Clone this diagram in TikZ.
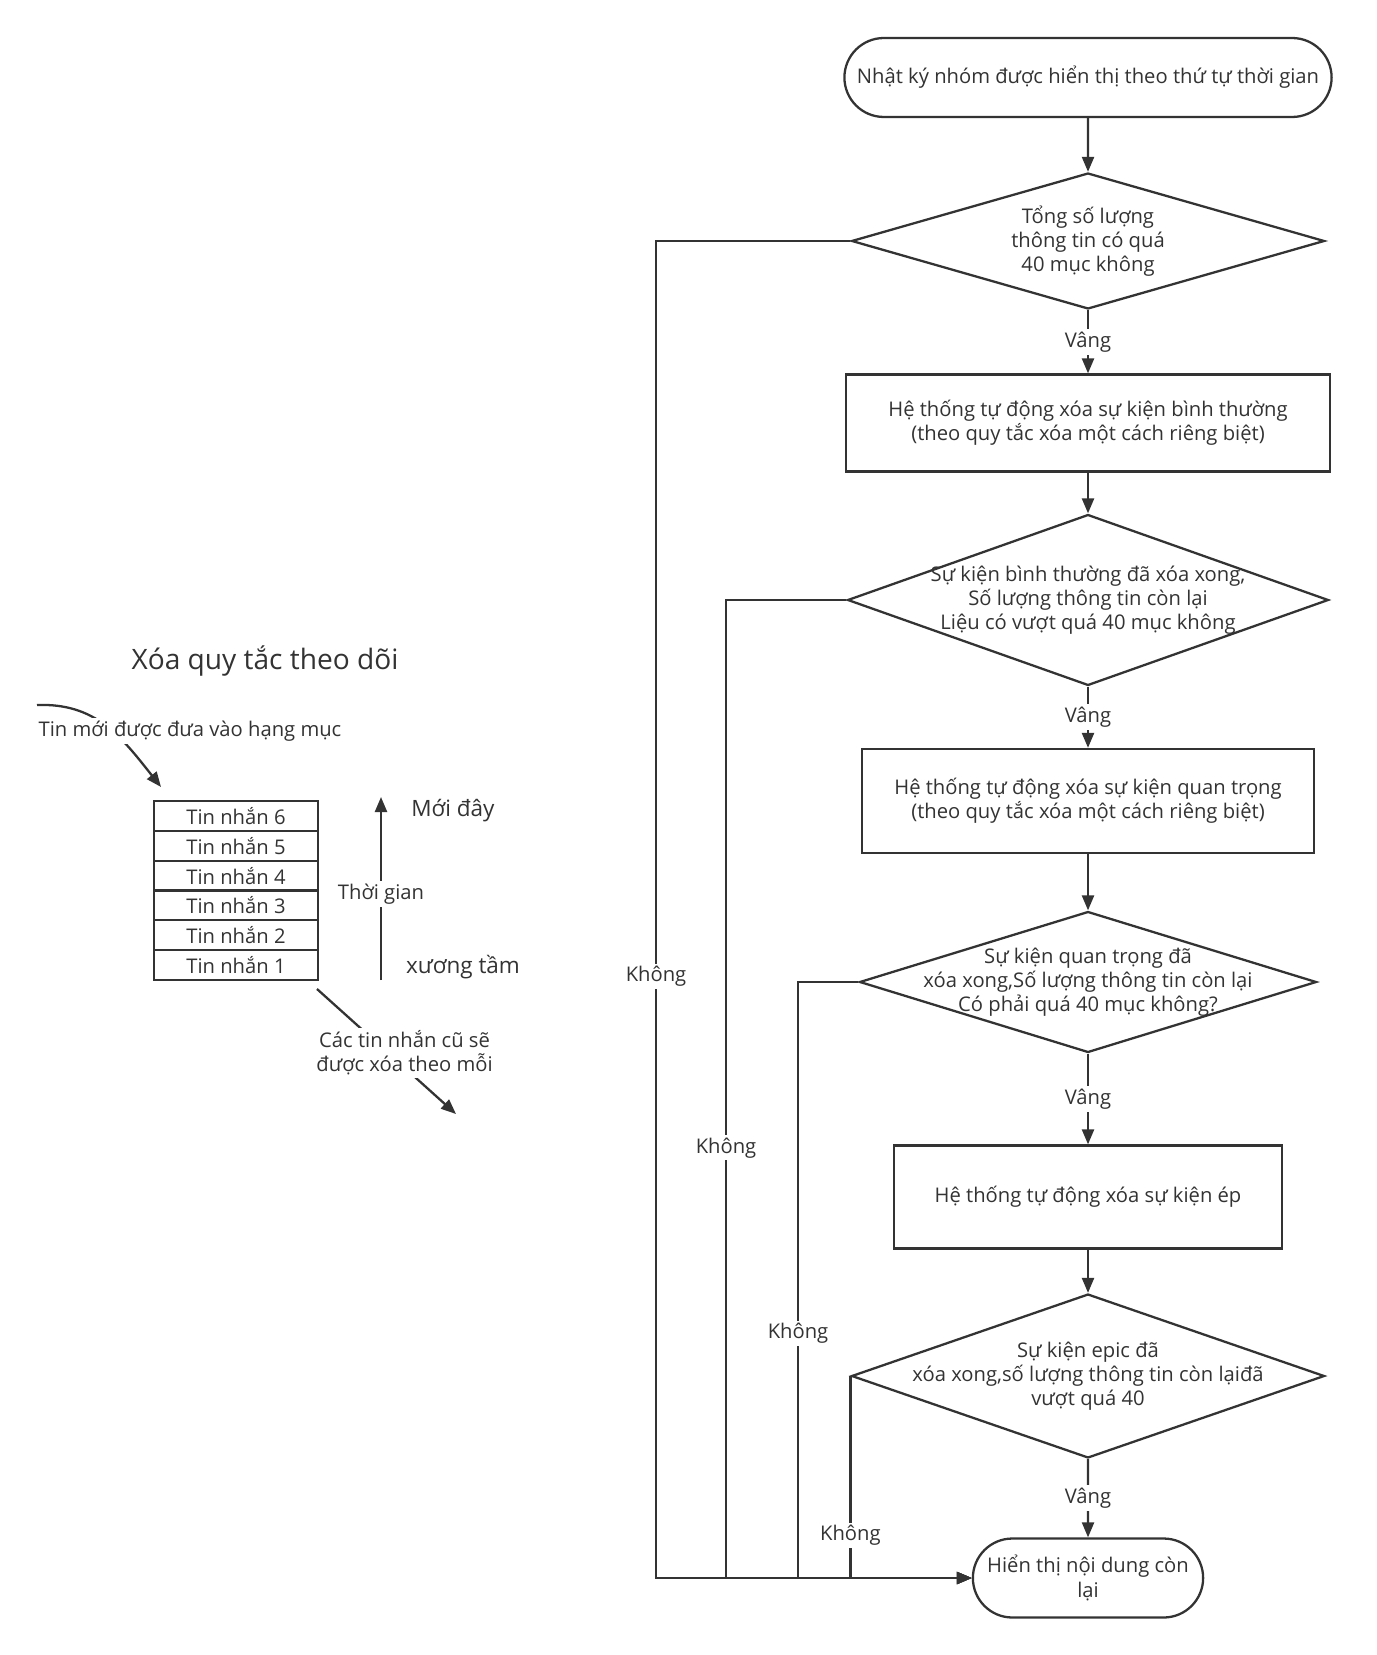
\documentclass[tikz,border=0pt]{standalone}
\usepackage{fontspec}
\setmainfont{Open Sans}
\usetikzlibrary{shapes.geometric,shapes.misc,arrows.meta,positioning}
\definecolor{ink}{HTML}{333333}
\newcommand\fmain{\fontsize{11.5}{13.8}\selectfont}
\newcommand\fbig{\fontsize{12.8}{15}\selectfont}

\begin{document}
\begin{tikzpicture}[
    x=0.02cm, y=-0.02cm,
    every node/.style={text=ink},
    term/.style={draw=ink, line width=1.3pt, rounded rectangle,
                 minimum height=1.58cm, align=center, font=\fmain},
    proc/.style={draw=ink, line width=1.3pt, rectangle,
                 align=center, font=\fmain},
    dec/.style={draw=ink, line width=1.3pt, diamond, inner sep=0pt},
    dtxt/.style={align=center, font=\fmain},
    arr/.style={-{Triangle[length=0.3cm, width=0.24cm]}, draw=ink, line width=1.3pt},
    lbl/.style={fill=white, inner sep=1.5pt, align=center, font=\fmain},
    msg/.style={draw=ink, line width=1.3pt, minimum width=3.28cm,
                minimum height=0.596cm, inner sep=0pt, font=\fmain},
]
\path[fill=white, use as bounding box] (0,0) rectangle (1376,1655);

% Flowchart on the right
\node[term, minimum width=9.98cm] (start) at (1088,77.5)
    {Nhật ký nhóm được hiển thị theo thứ tự thời gian};
\node[dec, minimum width=9.46cm, minimum height=2.72cm,
      label={[dtxt]center:{Tổng số lượng\\thông tin có quá\\40 mục không}}] (d1) at (1088,241) {};
\node[proc, minimum width=9.68cm, minimum height=1.94cm] (b1) at (1088,423)
    {Hệ thống tự động xóa sự kiện bình thường\\(theo quy tắc xóa một cách riêng biệt)};
\node[dec, minimum width=9.62cm, minimum height=3.42cm,
      label={[dtxt]center:{Sự kiện bình thường đã xóa xong,\\Số lượng thông tin còn lại\\Liệu có vượt quá 40 mục không}}] (d2) at (1088,600) {};
\node[proc, minimum width=9.04cm, minimum height=2.08cm] (b2) at (1088,801)
    {Hệ thống tự động xóa sự kiện quan trọng\\(theo quy tắc xóa một cách riêng biệt)};
\node[dec, minimum width=9.14cm, minimum height=2.82cm,
      label={[dtxt]center:{Sự kiện quan trọng đã\\xóa xong,Số lượng thông tin còn lại\\Có phải quá 40 mục không?}}] (d3) at (1088,982) {};
\node[proc, minimum width=7.76cm, minimum height=2.06cm] (b3) at (1088,1197)
    {Hệ thống tự động xóa sự kiện ép};
\node[dec, minimum width=9.46cm, minimum height=3.28cm,
      label={[dtxt]center:{Sự kiện epic đã\\xóa xong,số lượng thông tin còn lạiđã\\vượt quá 40}}] (d4) at (1088,1376) {};
\node[term, minimum width=4.84cm] (done) at (1088,1578)
    {Hiển thị nội dung còn\\lại};

% Main path
\draw[arr] (start) -- (d1);
\draw[arr] (d1) -- node[lbl] {Vâng} (b1);
\draw[arr] (b1) -- (d2);
\draw[arr] (d2) -- node[lbl] {Vâng} (b2);
\draw[arr] (b2) -- (d3);
\draw[arr] (d3) -- node[lbl] {Vâng} (b3);
\draw[arr] (b3) -- (d4);
\draw[arr] (d4) -- node[lbl] {Vâng} (done);

% "No" branches down the left side
\coordinate (k1) at (656,0);
\coordinate (k2) at (726,0);
\coordinate (k3) at (798,0);
\draw[arr] (d1.west) -- (d1.west -| k1) -- node[lbl, pos=0.55] {Không} (k1 |- done.west) -- (done.west);
\draw[arr] (d2.west) -- (d2.west -| k2) -- node[lbl, pos=0.56] {Không} (k2 |- done.west) -- (done.west);
\draw[arr] (d3.west) -- (d3.west -| k3) -- node[lbl, pos=0.59] {Không} (k3 |- done.west) -- (done.west);
\draw[arr] (d4.west) -- node[lbl, pos=0.79] {Không} (d4.west |- done.west) -- (done.west);

% Deletion rule sketch on the left
\node[font=\fontsize{16}{19}\selectfont] (title) at (265,661) {Xóa quy tắc theo dõi};

\node[msg] (m6) at (236,816) {Tin nhắn 6};
\node[msg, below=-1.3pt of m6] (m5) {Tin nhắn 5};
\node[msg, below=-1.3pt of m5] (m4) {Tin nhắn 4};
\node[msg, below=-1.3pt of m4] (m3) {Tin nhắn 3};
\node[msg, below=-1.3pt of m3] (m2) {Tin nhắn 2};
\node[msg, below=-1.3pt of m2] (m1) {Tin nhắn 1};

\coordinate (nws) at (37,705);
\coordinate (nwe) at (161,787);
\draw[arr] (nws) .. controls (95,703) and (120,735) .. (nwe);
\node[lbl] (newlbl) at (190,731) {Tin mới được đưa vào hạng mục};

\coordinate (tlo) at (381,980);
\coordinate (thi) at (381,797);
\draw[arr] (tlo) -- node[lbl, pos=0.47] {Thời gian} (thi);
\node[font=\fbig] (recent) at (453,811) {Mới đây};
\node[font=\fbig] (oldest) at (463,967) {xương tầm};

\coordinate (olds) at (317,989);
\coordinate (olde) at (456,1114);
\draw[arr] (olds) -- node[lbl, pos=0.63, yshift=0.3cm] {Các tin nhắn cũ sẽ\\được xóa theo mỗi} (olde);

\end{tikzpicture}
\end{document}
